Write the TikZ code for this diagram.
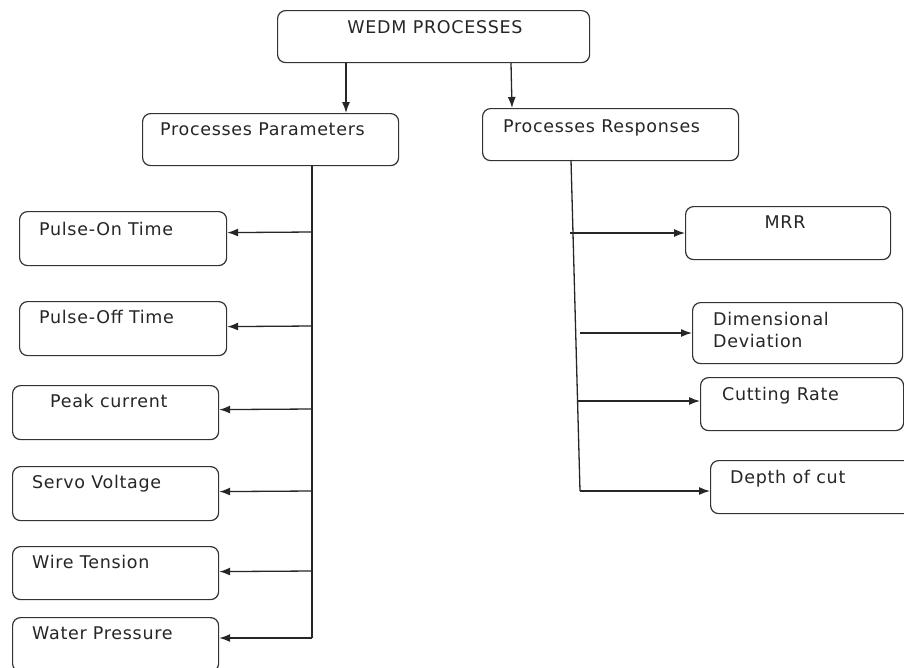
\documentclass[tikz,border=0pt]{standalone}
\usepackage{fontspec}
\setmainfont[LetterSpace=4]{DejaVu Sans}
\usetikzlibrary{arrows.meta}
\begin{document}
\begin{tikzpicture}[x=1pt,y=-1pt,
  box/.style={draw=black!80, line width=1.2pt, rounded corners=8pt, inner sep=0pt, anchor=north west, fill=white},
  lbl/.style={anchor=base west, inner sep=0pt, font=\fontsize{17.5}{21}\selectfont, text=black!85},
  conn/.style={draw=black!85, line width=1.3pt},
  arr/.style={conn, -{Latex[length=11pt,width=8pt]}}]
\clip (0,0) rectangle (904,667);
\fill[white] (0,0) rectangle (904,667);
% boxes
\node[box, minimum width=312pt, minimum height=52pt] (top) at (277,10) {};
\node[box, minimum width=256pt, minimum height=52pt] (par) at (142,113) {};
\node[box, minimum width=256pt, minimum height=52pt] (res) at (482,108) {};
\node[box, minimum width=207pt, minimum height=54pt] (pon) at (19,211) {};
\node[box, minimum width=207pt, minimum height=54pt] (poff) at (19,301) {};
\node[box, minimum width=206pt, minimum height=54pt] (peak) at (12,385) {};
\node[box, minimum width=206pt, minimum height=54pt] (servo) at (12,466) {};
\node[box, minimum width=206pt, minimum height=53pt] (wire) at (12,546) {};
\node[box, minimum width=206pt, minimum height=54pt] (water) at (12,617) {};
\node[box, minimum width=205pt, minimum height=53pt] (mrr) at (685,206) {};
\node[box, minimum width=210pt, minimum height=61pt] (dd) at (692,302) {};
\node[box, minimum width=203pt, minimum height=53pt] (cut) at (700,377) {};
\node[box, minimum width=210pt, minimum height=53pt] (dep) at (710,460) {};
% texts
\node[lbl, anchor=base] (ttop) at (435,33) {WEDM PROCESSES};
\node[lbl] (tpar) at (160,135) {Processes Parameters};
\node[lbl] (tres) at (503,132) {Processes Responses};
\node[lbl] (tpon) at (39,235) {Pulse-On Time};
\node[lbl] (tpoff) at (39,323) {Pulse-Off Time};
\node[lbl] (tpeak) at (50,407) {Peak current};
\node[lbl] (tservo) at (32,488) {Servo Voltage};
\node[lbl] (twire) at (32,568) {Wire Tension};
\node[lbl] (twater) at (32,639) {Water Pressure};
\node[lbl, anchor=base] (tmrr) at (785,228) {MRR};
\node[lbl] (tdd1) at (713,325) {Dimensional};
\node[lbl] (tdd2) at (713,347) {Deviation};
\node[lbl] (tcut) at (722,400) {Cutting Rate};
\node[lbl] (tdep) at (730,483) {Depth of cut};
% top arrows
\draw[arr] ([xshift=69pt]top.south west) -- ([xshift=69pt]top.south west |- par.north);
\draw[arr] ([xshift=234pt]top.south west) -- ([xshift=235pt]top.south west |- res.north);
% parameter bus
\coordinate (pb) at (312,638);
\draw[conn] (pb |- par.south) -- (pb);
\draw[arr] (pb |- 0,232) -- ([yshift=6pt]pon.east);
\draw[arr] (pb |- 0,326) -- ([yshift=2pt]poff.east);
\draw[arr] (pb |- 0,409) -- ([yshift=3pt]peak.east);
\draw[arr] (pb |- 0,491) -- ([yshift=2pt]servo.east);
\draw[arr] (pb |- 0,571) -- ([yshift=1.5pt]wire.east);
\draw[arr] (pb) -- (water.east |- pb);
% response bus
\coordinate (rb) at (580,491);
\draw[conn] (571,160) -- (rb);
\draw[arr] (570,233) -- (mrr.west |- 0,233);
\draw[arr] (580,333) -- (dd.west |- 0,333);
\draw[arr] (578,401) -- (cut.west |- 0,401);
\draw[arr] (rb) -- (dep.west |- rb);
\end{tikzpicture}
\end{document}
